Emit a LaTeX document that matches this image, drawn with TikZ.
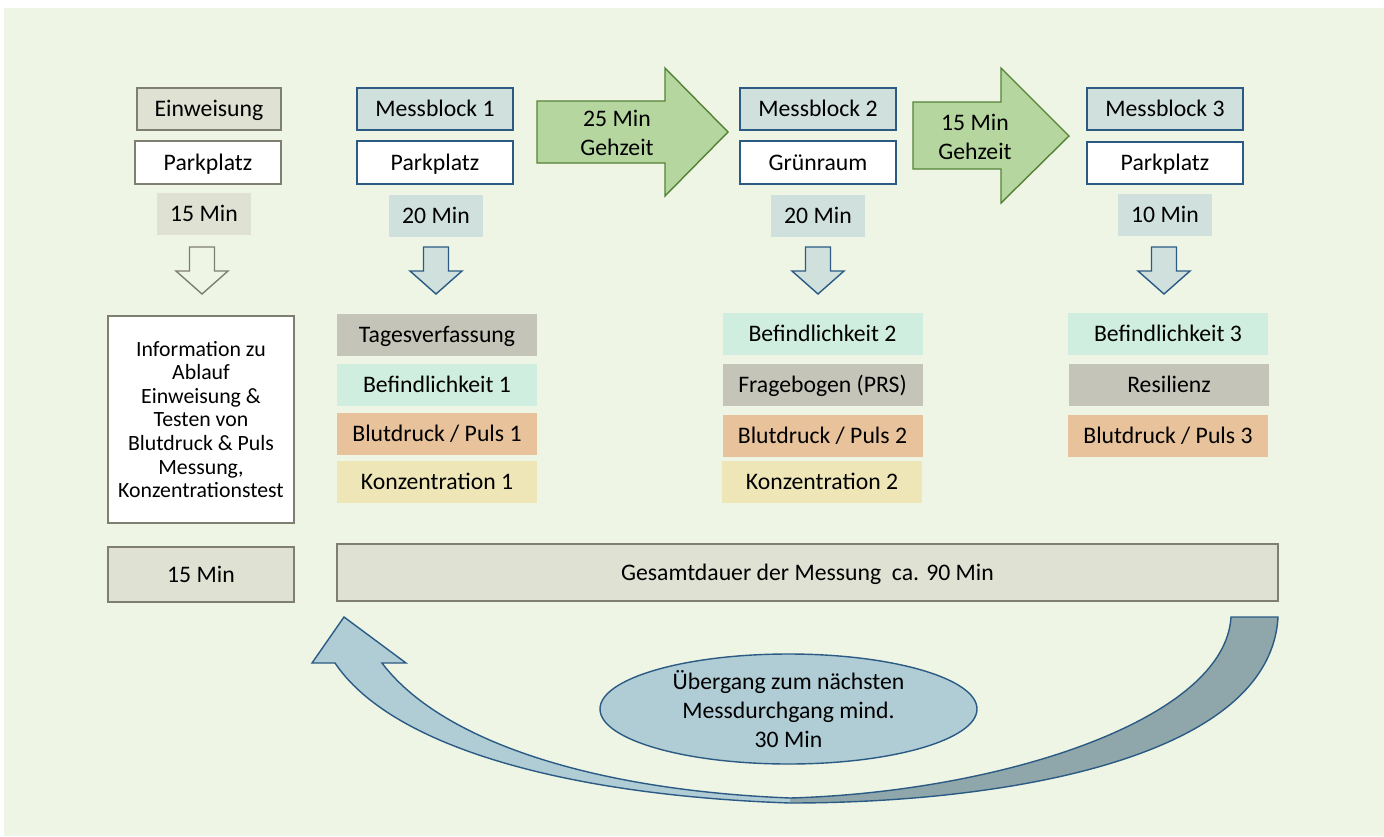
\documentclass[tikz,border=0pt]{standalone}
\usepackage{fontspec}
\setmainfont{Carlito}
\usetikzlibrary{shapes.geometric}
\definecolor{bg}{HTML}{EEF5E5}
\definecolor{graybox}{HTML}{DFE1D3}
\definecolor{grayline}{HTML}{7F7F70}
\definecolor{bluebox}{HTML}{D0E1DD}
\definecolor{blueline}{HTML}{2B5B84}
\definecolor{greenfill}{HTML}{B6D69F}
\definecolor{greenline}{HTML}{548235}
\definecolor{tagcol}{HTML}{C4C5B8}
\definecolor{mintcol}{HTML}{CFEEDF}
\definecolor{tancol}{HTML}{E8C29A}
\definecolor{yelcol}{HTML}{EFE6B8}
\definecolor{ellfill}{HTML}{B0CDD5}
\definecolor{darkarr}{HTML}{8FA7AA}
\newcommand{\downarr}[2]{%
  \draw[#2] (#1-12.5,247) -- (#1+12.5,247) -- (#1+12.5,271) -- (#1+26,271) -- (#1,294) -- (#1-26,271) -- (#1-12.5,271) -- cycle;}
\begin{document}
\begin{tikzpicture}[x=0.02cm, y=-0.02cm,
  font=\fontsize{13.5}{16.3}\selectfont,
  every node/.style={inner sep=0pt, align=center},
  one/.style={text height=10.9pt, text depth=2.2pt},
  gbox/.style={rectangle, one, fill=graybox, draw=grayline, line width=0.9pt},
  wgbox/.style={rectangle, one, fill=white, draw=grayline, line width=0.9pt},
  bbox/.style={rectangle, one, fill=bluebox, draw=blueline, line width=0.9pt},
  wbbox/.style={rectangle, one, fill=white, draw=blueline, line width=0.9pt},
  head/.style={rectangle, minimum width=156*0.02cm, minimum height=42*0.02cm},
  timebox/.style={rectangle, one, minimum width=94*0.02cm, minimum height=42*0.02cm},
  item/.style={rectangle, one, minimum width=200*0.02cm, minimum height=42*0.02cm},
  garrow/.style={fill=greenfill, draw=greenline, line width=0.8pt, line join=miter},
  darr/.style={fill=bluebox, draw=blueline, line width=0.8pt},
  garr/.style={fill=bg, draw=grayline, line width=0.8pt}
]
\useasboundingbox (0,0) rectangle (1384,836);
\fill[white] (0,0) rectangle (1384,836);
\fill[bg] (4,8) rectangle (1384,836);

% column 0
\node[gbox, minimum width=144*0.02cm, minimum height=42*0.02cm] (ein) at (209,109) {Einweisung};
\node[wgbox, minimum width=146*0.02cm, minimum height=43*0.02cm] (pp0) at (208,162.5) {Parkplatz};
\node[timebox, fill=graybox] (t0) at (204,214) {15 Min};
\downarr{202}{garr}
\node[rectangle, fill=white, draw=grayline, line width=0.9pt, minimum width=186*0.02cm, minimum height=207*0.02cm, font=\fontsize{12.4}{13.4}\selectfont] (info) at (201,419.5)
  {Information zu\\Ablauf\\Einweisung \&\\Testen von\\Blutdruck \& Puls\\Messung,\\Konzentrationstest};
\node[gbox, minimum width=186*0.02cm, minimum height=55*0.02cm] (m15) at (201,574.5) {15 Min};

% column 1
\node[bbox, head] (mb1) at (435,109) {Messblock 1};
\node[wbbox, head, minimum height=43*0.02cm] (pp1) at (435,162.5) {Parkplatz};
\node[timebox, fill=bluebox] (t1) at (436,216) {20 Min};
\downarr{436}{darr}
\node[item, fill=tagcol] (tag1) at (437,335) {Tagesverfassung};
\node[item, fill=mintcol] (bef1) at (437,385) {Befindlichkeit 1};
\node[item, fill=tancol] (blu1) at (437,434) {Blutdruck / Puls 1};
\node[item, fill=yelcol] (kon1) at (437,482) {Konzentration 1};

% green arrow 1
\draw[garrow] (537,101) -- (665,101) -- (665,68) -- (728,132) -- (665,196) -- (665,163) -- (537,163) -- cycle;
\node (g1) at (617,133) {25 Min\\Gehzeit};

% column 2
\node[bbox, head] (mb2) at (818,109) {Messblock 2};
\node[wbbox, head, minimum height=43*0.02cm] (gr) at (818,162.5) {Grünraum};
\node[timebox, fill=bluebox] (t2) at (818,216) {20 Min};
\downarr{818}{darr}
\node[item, fill=mintcol] (bef2) at (822.5,334) {Befindlichkeit 2};
\node[item, fill=tagcol] (fra) at (822.5,385) {Fragebogen (PRS)};
\node[item, fill=tancol] (blu2) at (822.5,436) {Blutdruck / Puls 2};
\node[item, fill=yelcol] (kon2) at (822,482) {Konzentration 2};

% green arrow 2
\draw[garrow] (913,102) -- (1001,102) -- (1001,68) -- (1069,136) -- (1001,203) -- (1001,169) -- (913,169) -- cycle;
\node (g2) at (975,137) {15 Min\\Gehzeit};

% column 3
\node[bbox, head] (mb3) at (1165,109) {Messblock 3};
\node[wbbox, head] (pp3) at (1165,163) {Parkplatz};
\node[timebox, fill=bluebox] (t3) at (1165,215) {10 Min};
\downarr{1164}{darr}
\node[item, fill=mintcol] (bef3) at (1168,333.5) {Befindlichkeit 3};
\node[item, fill=tagcol] (res) at (1169,385) {Resilienz};
\node[item, fill=tancol] (blu3) at (1168,436) {Blutdruck / Puls 3};

% total
\node[gbox, minimum width=941*0.02cm, minimum height=57*0.02cm] (ges) at (807.5,572.5) {Gesamtdauer der Messung~~ca. 90 Min};

% curved arrow
\fill[darkarr] (1231,617) -- (1278,617) .. controls (1270,760) and (1000,803) .. (790,803) -- (790,798) .. controls (1000,792) and (1225,720) .. (1231,617) -- cycle;
\fill[ellfill] (790,803) .. controls (560,795) and (390,745) .. (335,663) -- (312,663) -- (344,617) -- (406,663) -- (382,663) .. controls (440,740) and (590,790) .. (790,798) -- cycle;
\draw[blueline, line width=0.8pt, line join=miter] (1231,617) -- (1278,617) .. controls (1270,760) and (1000,803) .. (790,803) .. controls (560,795) and (390,745) .. (335,663) -- (312,663) -- (344,617) -- (406,663) -- (382,663) .. controls (440,740) and (590,790) .. (790,798) .. controls (1000,792) and (1225,720) .. (1231,617) -- cycle;

% ellipse
\node[ellipse, fill=ellfill, draw=blueline, line width=0.8pt, minimum width=377*0.02cm, minimum height=110*0.02cm] (ell) at (788.5,709)
  {Übergang zum nächsten\\Messdurchgang mind.\\30 Min};
\end{tikzpicture}
\end{document}
